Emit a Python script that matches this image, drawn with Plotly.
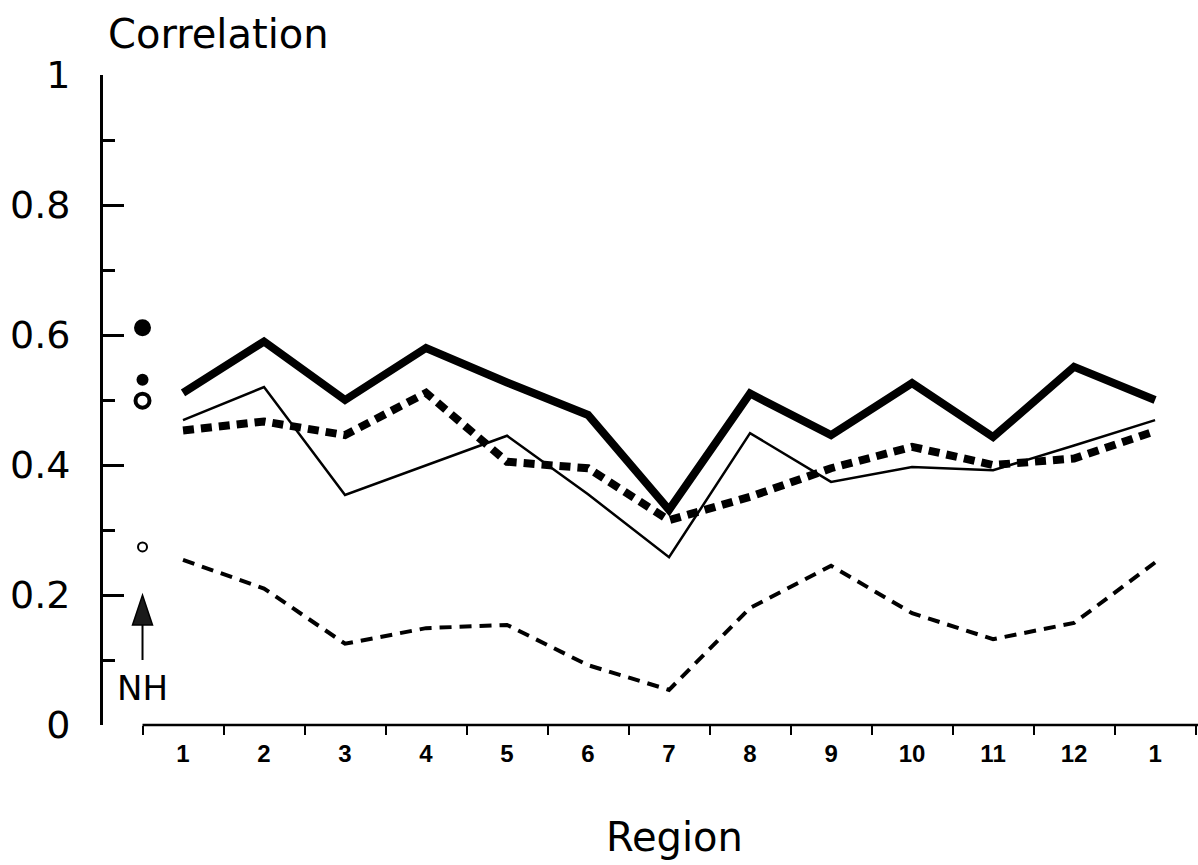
import plotly.graph_objects as go

# Region axis: 12 regions plus region 1 repeated at the end
region_labels = ["1", "2", "3", "4", "5", "6", "7", "8", "9", "10", "11", "12", "1"]
region_pos = list(range(1, 14))
region_bounds = [i + 0.5 for i in range(0, 14)]

# Correlation per region for the four series
thick_solid = [0.511, 0.590, 0.500, 0.580, 0.527, 0.477, 0.331, 0.510, 0.446, 0.526, 0.443, 0.551, 0.500]
thin_solid = [0.469, 0.520, 0.354, 0.400, 0.445, 0.355, 0.258, 0.449, 0.374, 0.397, 0.392, 0.430, 0.469]
thick_dashed = [0.453, 0.467, 0.446, 0.511, 0.405, 0.395, 0.315, 0.351, 0.395, 0.428, 0.400, 0.410, 0.452]
thin_dashed = [0.254, 0.210, 0.125, 0.149, 0.154, 0.092, 0.054, 0.180, 0.245, 0.172, 0.132, 0.157, 0.250]

# Northern hemisphere values, one per series
NH_X = 0.5
nh_thick_solid = 0.611
nh_thin_solid = 0.531
nh_thick_dashed = 0.499
nh_thin_dashed = 0.274

# NH pointer (tip value, base of head, bottom of stem)
NH_ARROW_TIP = 0.200
NH_ARROW_BASE = 0.154
NH_ARROW_STEM = 0.100
NH_LABEL_Y = 0.057

y_major = [0, 0.2, 0.4, 0.6, 0.8, 1.0]
y_major_text = ["0", "0.2", "0.4", "0.6", "0.8", "1"]
y_minor = [0.1, 0.3, 0.5, 0.7, 0.9]

BIG = "DejaVu Sans"

fig = go.Figure()

fig.add_trace(go.Scatter(x=region_pos, y=thin_dashed, mode="lines",
                         line=dict(color="black", width=4, dash="12px,8px")))
fig.add_trace(go.Scatter(x=region_pos, y=thin_solid, mode="lines",
                         line=dict(color="black", width=2.5)))
fig.add_trace(go.Scatter(x=region_pos, y=thick_dashed, mode="lines",
                         line=dict(color="black", width=8, dash="11px,7px")))
fig.add_trace(go.Scatter(x=region_pos, y=thick_solid, mode="lines",
                         line=dict(color="black", width=8)))

# NH symbols
fig.add_trace(go.Scatter(x=[NH_X], y=[nh_thick_solid], mode="markers",
                         marker=dict(symbol="circle", size=17, color="black", line=dict(width=0))))
fig.add_trace(go.Scatter(x=[NH_X], y=[nh_thin_solid], mode="markers",
                         marker=dict(symbol="circle", size=12, color="black", line=dict(width=0))))
fig.add_trace(go.Scatter(x=[NH_X], y=[nh_thick_dashed], mode="markers",
                         marker=dict(symbol="circle-open", size=14, color="black",
                                     line=dict(width=4, color="black"))))
fig.add_trace(go.Scatter(x=[NH_X], y=[nh_thin_dashed], mode="markers",
                         marker=dict(symbol="circle-open", size=9, color="black",
                                     line=dict(width=2, color="black"))))

# NH pointer: stem and filled head
head_half = 10 / 81.0
fig.add_shape(type="line", xref="x", yref="y", x0=NH_X, x1=NH_X,
              y0=NH_ARROW_STEM, y1=NH_ARROW_BASE, line=dict(color="black", width=2))
fig.add_shape(type="path", xref="x", yref="y",
              path=f"M {NH_X - head_half} {NH_ARROW_BASE} L {NH_X + head_half} {NH_ARROW_BASE} "
                   f"L {NH_X} {NH_ARROW_TIP} Z",
              fillcolor="#1a1a1a", line=dict(color="black", width=1.5))
fig.add_annotation(x=NH_X, y=NH_LABEL_Y, xref="x", yref="y", text="NH", showarrow=False,
                   font=dict(family=BIG, size=34, color="black"))

# horizontal axis line starts at the NH column
fig.add_shape(type="line", xref="x", yref="paper", x0=region_bounds[0], x1=13.6,
              y0=0, y1=0, line=dict(color="black", width=2.5))

fig.add_annotation(xref="paper", yref="paper", x=0.0027, y=1.063, xanchor="left",
                   yanchor="middle", text="Correlation", showarrow=False,
                   font=dict(family=BIG, size=40, color="black"))
fig.add_annotation(xref="paper", yref="paper", x=0.522, y=-0.172, xanchor="center",
                   yanchor="middle", text="Region", showarrow=False,
                   font=dict(family=BIG, size=40, color="black"))

fig.update_layout(
    width=1198, height=865,
    margin=dict(l=103, r=0, t=75, b=140),
    paper_bgcolor="white", plot_bgcolor="white",
    showlegend=False,
    xaxis=dict(
        range=[0.0123, 13.53],
        showline=False, showgrid=False, zeroline=False,
        tickmode="array", tickvals=region_pos, ticktext=region_labels,
        ticks="", ticklabelstandoff=12,
        tickfont=dict(family="Liberation Sans", size=24, color="black", weight="bold"),
        minor=dict(tickmode="array", tickvals=region_bounds, ticks="outside",
                   ticklen=9, tickwidth=2, tickcolor="black", showgrid=False),
    ),
    yaxis=dict(
        range=[0, 1],
        showline=True, linecolor="black", linewidth=3,
        showgrid=False, zeroline=False,
        tickmode="array", tickvals=y_major, ticktext=y_major_text,
        ticks="inside", ticklen=21, tickwidth=2.5, tickcolor="black",
        ticklabelstandoff=22,
        tickfont=dict(family=BIG, size=38, color="black"),
        minor=dict(tickmode="array", tickvals=y_minor, ticks="inside",
                   ticklen=12, tickwidth=2.5, tickcolor="black", showgrid=False),
    ),
)

fig.write_html("out.html")
